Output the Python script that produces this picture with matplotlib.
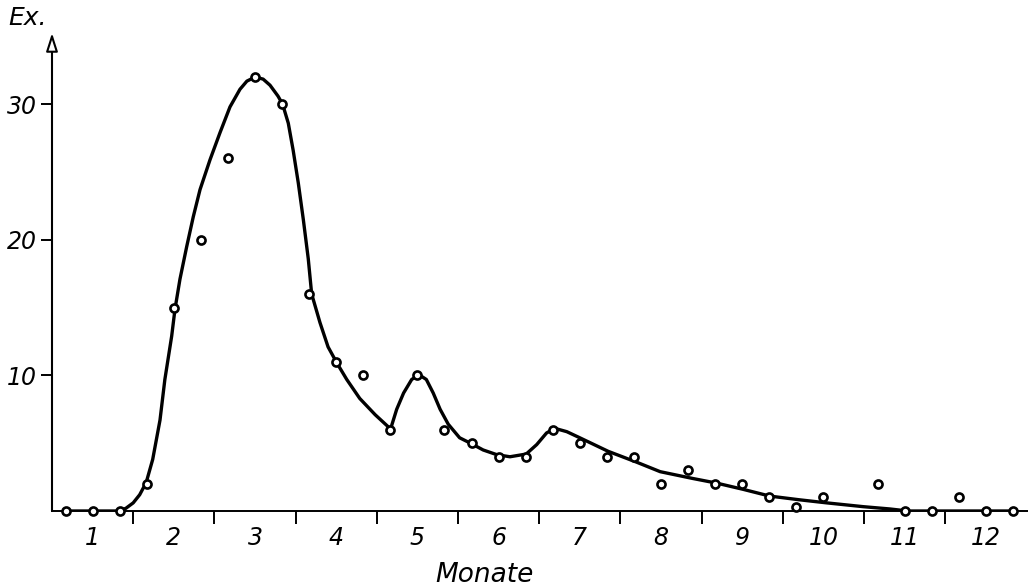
import matplotlib
matplotlib.use("Agg")
import matplotlib.pyplot as plt

# ---- data -------------------------------------------------------------
# observed counts per ten-day period (Dekade 1..36; Dekade 30 not recorded)
obs_decade = [1, 2, 3, 4, 5, 6, 7, 8, 9, 10, 11, 12, 13, 14, 15, 16, 17, 18,
              19, 20, 21, 22, 23, 24, 25, 26, 27, 28, 29, 31, 32, 33, 34, 35, 36]
obs_count = [0, 0, 0, 2, 15, 20, 26, 32, 30, 16, 11, 10, 6, 10, 6, 5, 4, 4,
             6, 5, 4, 4, 2, 3, 2, 2, 1, 0.3, 1, 2, 0, 0, 1, 0, 0]

# hand-drawn smoothed curve (month, count)
curve_month = [0.16, 0.50, 0.83, 0.91, 1.00, 1.08, 1.16, 1.24, 1.33, 1.39,
               1.474, 1.515, 1.576, 1.659, 1.740, 1.823, 1.946, 2.069, 2.192,
               2.315, 2.40, 2.50, 2.60, 2.685, 2.783, 2.84, 2.91, 2.97, 3.033,
               3.095, 3.156, 3.198, 3.30, 3.40, 3.51, 3.63, 3.79, 3.98, 4.17,
               4.245, 4.33, 4.43, 4.52, 4.61, 4.695, 4.78, 4.88, 5.02, 5.17,
               5.31, 5.48, 5.64, 5.84, 5.97, 6.09, 6.19, 6.34, 6.50, 6.85,
               7.20, 7.49, 7.89, 8.19, 8.51, 8.84, 9.20, 9.54, 9.99, 10.32,
               10.54, 11.85]
curve_value = [0, 0, 0, 0.2, 0.6, 1.2, 2.1, 3.8, 6.7, 9.7,
               12.9, 14.9, 17.1, 19.5, 21.7, 23.7, 25.9, 27.9, 29.8,
               31.1, 31.7, 32.0, 31.85, 31.4, 30.6, 30.0, 28.6, 26.6, 24.2,
               21.5, 18.6, 16.0, 13.9, 12.1, 10.9, 9.7, 8.3, 7.1, 6.05,
               7.5, 8.7, 9.7, 10.05, 9.7, 8.7, 7.5, 6.4, 5.4, 4.95,
               4.5, 4.15, 4.0, 4.2, 4.9, 5.75, 6.1, 5.85, 5.4, 4.4,
               3.6, 2.9, 2.4, 2.05, 1.6, 1.1, 0.83, 0.6, 0.32, 0.15,
               0, 0]

month_labels = ["1", "2", "3", "4", "5", "6", "7", "8", "9", "10", "11", "12"]
month_boundaries = [1, 2, 3, 4, 5, 6, 7, 8, 9, 10, 11]
month_centers = [0.5, 1.5, 2.5, 3.5, 4.5, 5.5, 6.5, 7.5, 8.5, 9.5, 10.5, 11.5]
y_ticks = [10, 20, 30]

obs_month = [(d - 0.5) / 3.0 for d in obs_decade]

# ---- figure -----------------------------------------------------------
W, H = 1028, 588
fig = plt.figure(figsize=(W / 100, H / 100), dpi=100)
fig.patch.set_facecolor("white")
ax = fig.add_axes([52 / W, 77 / H, (W - 52) / W, (511 - 33) / H])
ax.set_xlim(0, 12.02)
ax.set_ylim(0, 35.25)

font = dict(family="DejaVu Sans", style="italic")

ax.plot(curve_month, curve_value, color="black", lw=2.4,
        solid_capstyle="round", solid_joinstyle="round", zorder=3)
ax.plot(obs_month, obs_count, linestyle="none", marker="o", markersize=5.8,
        markerfacecolor="white", markeredgecolor="black",
        markeredgewidth=1.9, zorder=4, clip_on=False)

for s in ["top", "right", "left"]:
    ax.spines[s].set_visible(False)
ax.spines["bottom"].set_linewidth(1.4)

# y-axis with hollow arrow head
ax.annotate("", xy=(0, 1.0), xytext=(0, 0), xycoords="axes fraction",
            textcoords="axes fraction",
            arrowprops=dict(arrowstyle="-|>,head_length=1.1,head_width=0.35",
                            fc="white", ec="black", lw=1.5,
                            shrinkA=0, shrinkB=0))

ax.set_yticks(y_ticks)
ax.set_yticklabels([str(t) for t in y_ticks], fontdict=font, fontsize=17)
ax.tick_params(axis="y", direction="out", length=8, width=1.4, pad=3)

ax.set_xticks(month_boundaries)
ax.set_xticklabels([])
ax.set_xticks(month_centers, minor=True)
ax.set_xticklabels(month_labels, minor=True, fontdict=font, fontsize=17)
ax.tick_params(axis="x", which="major", direction="out", length=9, width=1.4)
ax.tick_params(axis="x", which="minor", length=0, pad=11)

fig.text(8 / W, 1 - 25 / H, "Ex.", fontsize=18, va="baseline", ha="left",
         **font)
fig.text(484 / W, 1 - 582 / H, "Monate", fontsize=19, va="baseline",
         ha="center", **font)

fig.savefig("out.png", dpi=100, facecolor="white")
